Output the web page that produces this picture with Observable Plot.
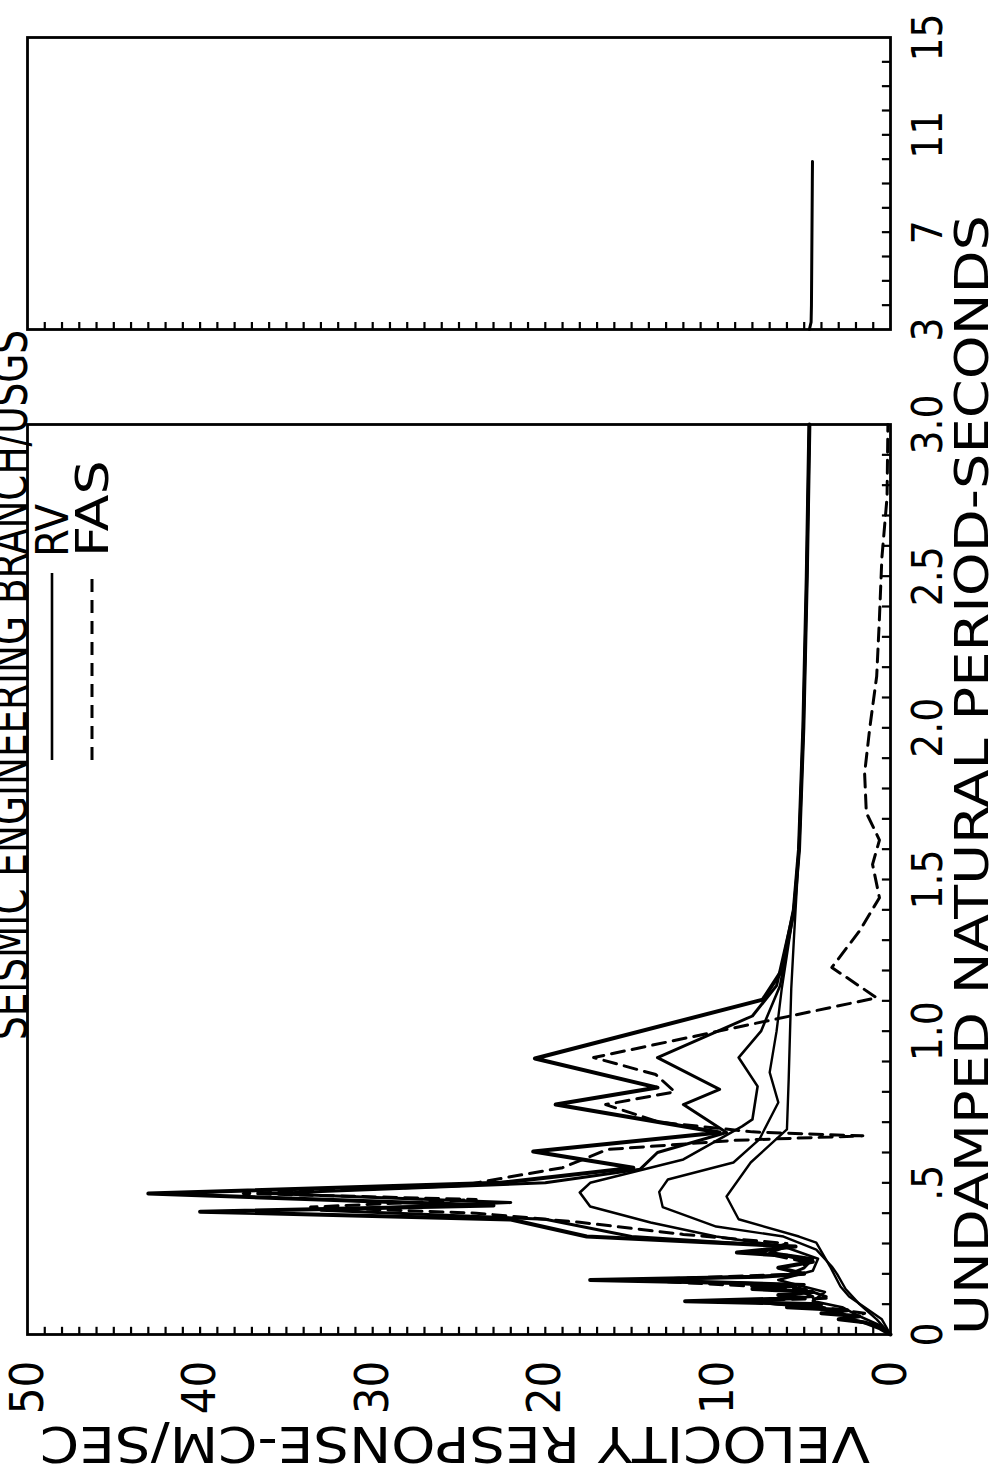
<!DOCTYPE html>
<html>
<head>
<meta charset="utf-8">
<script src="https://cdn.jsdelivr.net/npm/d3@7"></script>
<script src="https://cdn.jsdelivr.net/npm/@observablehq/plot@0.6"></script>
<style>
html,body{margin:0;padding:0;background:#fff;overflow:hidden;}
#page{position:absolute;left:0;top:0;width:1000px;height:1474px;overflow:hidden;background:#fff;}
#rot{position:absolute;left:0;top:0;width:1474px;height:1000px;transform-origin:0 0;transform:translate(0px,1474px) rotate(-90deg);}
</style>
</head>
<body>
<div id="page"><div id="rot"></div></div>
<script>
// ---------------- DATA (period in seconds, velocity in cm/sec) ----------------
const titleText = "SEISMIC ENGINEERING BRANCH/USGS";
const xTitle = "UNDAMPED NATURAL PERIOD-SECONDS";
const yTitle = "VELOCITY RESPONSE-CM/SEC";
const legendLabels = ["RV", "FAS"];

const periodLabelsShort = [0, 0.5, 1.0, 1.5, 2.0, 2.5, 3.0];
const periodLabelsLong = [3, 7, 11, 15];
const velocityLabels = [0, 10, 20, 30, 40, 50];

// RV curves (solid), lowest damping first
const periodA = [0, 0.02, 0.04, 0.05, 0.06, 0.07, 0.08, 0.09, 0.10, 0.11, 0.12, 0.13, 0.14, 0.15, 0.16, 0.17, 0.18, 0.19, 0.20, 0.22, 0.24, 0.26, 0.27, 0.29, 0.323, 0.379, 0.405, 0.425, 0.465, 0.50, 0.55, 0.603, 0.666, 0.758, 0.814, 0.91, 1.104, 1.2, 1.4, 1.6, 2.0, 2.5, 3.0];
const velA    = [0, 0.6, 1.5, 3.0, 1.8, 4.0, 2.5, 6.0, 4.0, 11.9, 5.0, 6.5, 4.5, 8.0, 5.5, 9.0, 17.4, 7.5, 5.0, 6.5, 4.5, 6.0, 8.9, 5.5, 17.6, 22.0, 40.0, 23.0, 43.0, 22.6, 14.9, 20.7, 9.9, 19.4, 13.5, 20.6, 7.4, 6.3, 5.6, 5.3, 5.05, 4.85, 4.7];

const periodB = [0, 0.03, 0.05, 0.07, 0.09, 0.11, 0.125, 0.15, 0.165, 0.18, 0.195, 0.22, 0.25, 0.27, 0.29, 0.323, 0.38, 0.41, 0.435, 0.465, 0.50, 0.545, 0.60, 0.666, 0.758, 0.808, 0.913, 1.05, 1.15, 1.4, 1.6, 2.0, 2.5, 3.0];
const velB    = [0, 0.8, 2.2, 2.8, 4.5, 8.5, 4.5, 5.5, 5.0, 14.0, 6.0, 5.0, 4.5, 7.0, 6.0, 15.0, 20.0, 33.0, 22.0, 36.0, 20.0, 14.5, 13.5, 9.5, 12.0, 9.9, 13.5, 8.0, 6.6, 5.6, 5.3, 5.05, 4.85, 4.7];

const periodC = [0, 0.03, 0.06, 0.09, 0.11, 0.14, 0.18, 0.21, 0.25, 0.29, 0.323, 0.369, 0.422, 0.468, 0.50, 0.577, 0.686, 0.709, 0.818, 0.913, 1.0, 1.15, 1.4, 1.6, 2.0, 2.5, 3.0];
const velC    = [0, 0.6, 1.8, 2.8, 4.5, 3.8, 6.5, 4.5, 4.2, 6.2, 10.1, 13.9, 17.4, 18.0, 17.4, 12.0, 8.6, 8.0, 7.7, 8.8, 7.5, 6.4, 5.6, 5.3, 5.05, 4.85, 4.7];

const periodD = [0, 0.05, 0.10, 0.15, 0.20, 0.224, 0.28, 0.323, 0.356, 0.42, 0.47, 0.511, 0.567, 0.643, 0.765, 0.864, 1.0, 1.14, 1.4, 1.6, 2.0, 2.5, 3.0];
const velD    = [0, 0.8, 1.8, 2.6, 3.1, 3.4, 4.3, 6.2, 10.1, 13.2, 13.4, 12.9, 9.1, 7.6, 6.5, 7.0, 6.6, 6.3, 5.6, 5.3, 5.05, 4.85, 4.7];

const periodE = [0, 0.05, 0.125, 0.158, 0.224, 0.303, 0.323, 0.38, 0.455, 0.567, 0.676, 0.84, 1.14, 1.3, 1.6, 2.0, 2.5, 3.0];
const velE    = [0, 0.5, 2.4, 2.9, 3.5, 4.3, 5.3, 8.8, 9.5, 8.1, 6.0, 5.9, 5.75, 5.6, 5.3, 5.05, 4.85, 4.7];

// RV beyond 3 s (all damping levels coincide)
const periodLong = [3, 3.3, 4, 5, 6, 7, 8, 9, 9.9];
const velLong    = [4.7, 4.6, 4.58, 4.57, 4.56, 4.55, 4.54, 4.53, 4.52];

// Fourier amplitude spectrum (dashed)
const periodF = [0, 0.03, 0.05, 0.07, 0.09, 0.11, 0.12, 0.15, 0.18, 0.20, 0.24, 0.27, 0.30, 0.33, 0.37, 0.40, 0.42, 0.445, 0.465, 0.49, 0.55, 0.61, 0.64, 0.655, 0.668, 0.70, 0.758, 0.80, 0.857, 0.913, 1.11, 1.21, 1.33, 1.44, 1.55, 1.63, 1.72, 1.85, 2.0, 2.17, 2.35, 2.56, 2.76, 3.0];
const velF    = [0, 0.8, 2.5, 1.5, 4.0, 9.0, 3.5, 5.0, 15.0, 5.0, 5.0, 7.5, 6.0, 12.0, 18.0, 24.0, 33.6, 24.0, 37.5, 25.0, 19.0, 16.4, 9.0, 1.6, 8.0, 13.4, 16.5, 12.5, 13.6, 17.2, 0.8, 3.4, 1.8, 0.64, 1.04, 0.64, 1.4, 1.5, 1.2, 0.8, 0.65, 0.5, 0.2, 0.15];

// ---------------- DRAWING ----------------
const FONT = "'DejaVu Sans Condensed','DejaVu Sans',sans-serif";
const rot = document.getElementById("rot");
const series = (ps, vs) => ps.map((p, i) => ({p, v: vs[i]}));

const periodTicksShort = d3.range(1, 30).map(i => i / 10);
const periodTicksLong = d3.range(4, 15);
const velocityTicks = d3.range(1, 50);
const fmtShort = p => p === 0 ? "0" : p < 1 ? ".5" : p.toFixed(1);

const lineStyle = {strokeLinejoin: "round", strokeLinecap: "round", stroke: "black"};

const lower = Plot.plot({
  width: 1100, height: 1000,
  marginLeft: 139, marginRight: 51, marginTop: 27, marginBottom: 110,
  x: {type: "linear", domain: [0, 3]},
  y: {type: "linear", domain: [0, 50]},
  style: {fontFamily: FONT, fontSize: "42px", color: "#000", background: "none", overflow: "visible"},
  marks: [
    Plot.ruleX(periodTicksShort, {x: d => d, y1: 0, y2: 0.47, strokeWidth: 2.2}),
    Plot.ruleY(velocityTicks, {y: d => d, x1: 0, x2: 0.027, strokeWidth: 2.2}),
    Plot.axisX(periodLabelsShort, {tickSize: 0, tickPadding: 22, tickFormat: fmtShort, label: null}),
    Plot.axisY(velocityLabels, {tickSize: 0, tickPadding: 26, label: null, fontSize: 47}),
    Plot.line(series(periodE, velE), {x: "p", y: "v", strokeWidth: 2.4, ...lineStyle}),
    Plot.line(series(periodD, velD), {x: "p", y: "v", strokeWidth: 2.4, ...lineStyle}),
    Plot.line(series(periodC, velC), {x: "p", y: "v", strokeWidth: 2.6, ...lineStyle}),
    Plot.line(series(periodB, velB), {x: "p", y: "v", strokeWidth: 3, ...lineStyle}),
    Plot.line(series(periodA, velA), {x: "p", y: "v", strokeWidth: 4, ...lineStyle}),
    Plot.line(series(periodF, velF), {x: "p", y: "v", strokeWidth: 3, strokeDasharray: "13,8", ...lineStyle}),
    Plot.frame({strokeWidth: 2.8})
  ]
});

const upper = Plot.plot({
  width: 374, height: 1000,
  marginLeft: 44, marginRight: 38, marginTop: 27, marginBottom: 110,
  x: {type: "linear", domain: [3, 15]},
  y: {type: "linear", domain: [0, 50], axis: null},
  style: {fontFamily: FONT, fontSize: "42px", color: "#000", background: "none", overflow: "visible"},
  marks: [
    Plot.ruleX(periodTicksLong, {x: d => d, y1: 0, y2: 0.47, strokeWidth: 2.2}),
    Plot.ruleY(velocityTicks, {y: d => d, x1: 3, x2: 3.33, strokeWidth: 2.2}),
    Plot.axisX(periodLabelsLong, {tickSize: 0, tickPadding: 22, label: null}),
    Plot.line(series(periodLong, velLong), {x: "p", y: "v", strokeWidth: 3, ...lineStyle}),
    Plot.frame({strokeWidth: 2.8})
  ]
});

lower.style.position = "absolute"; lower.style.left = "0px"; lower.style.top = "0px";
upper.style.position = "absolute"; upper.style.left = "1100px"; upper.style.top = "0px";
rot.appendChild(lower);
rot.appendChild(upper);

// titles and legend
const svg = d3.create("svg")
  .attr("width", 1474).attr("height", 1000)
  .style("position", "absolute").style("left", "0px").style("top", "0px")
  .style("overflow", "visible").style("font-family", FONT);

svg.append("text").attr("x", 434).attr("y", 27).attr("font-size", 50)
  .attr("textLength", 710).attr("lengthAdjust", "spacingAndGlyphs").text(titleText);

svg.append("text").attr("x", 139).attr("y", 988).attr("font-size", 47)
  .attr("textLength", 1120).attr("lengthAdjust", "spacingAndGlyphs").text(xTitle);

svg.append("text").attr("transform", "translate(47,455) rotate(-90)").attr("text-anchor", "middle")
  .attr("font-size", 50).attr("textLength", 830).attr("lengthAdjust", "spacingAndGlyphs").text(yTitle);

// legend
svg.append("line").attr("x1", 714).attr("x2", 901).attr("y1", 52).attr("y2", 52)
  .attr("stroke", "black").attr("stroke-width", 2.6);
svg.append("text").attr("x", 917).attr("y", 68).attr("font-size", 44)
  .attr("textLength", 53).attr("lengthAdjust", "spacingAndGlyphs").text(legendLabels[0]);
svg.append("line").attr("x1", 714).attr("x2", 901).attr("y1", 92).attr("y2", 92)
  .attr("stroke", "black").attr("stroke-width", 3).attr("stroke-dasharray", "13,8");
svg.append("text").attr("x", 917).attr("y", 108).attr("font-size", 44)
  .attr("textLength", 97).attr("lengthAdjust", "spacingAndGlyphs").text(legendLabels[1]);

rot.appendChild(svg.node());
</script>
</body>
</html>
